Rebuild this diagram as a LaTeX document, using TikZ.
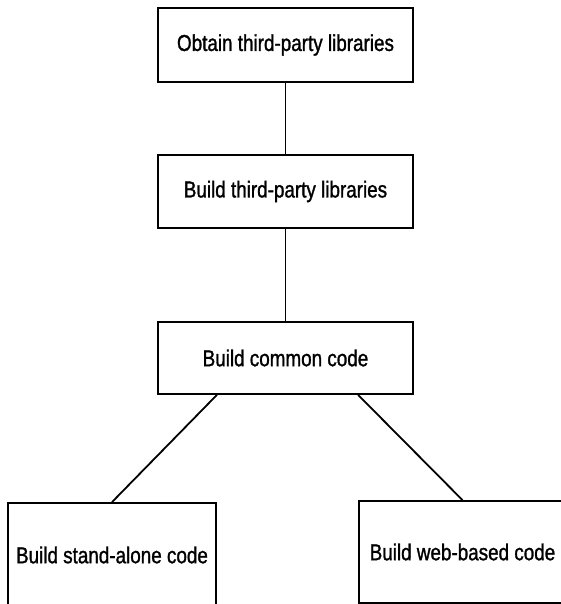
\documentclass[tikz,border=0pt]{standalone}
\usepackage{fontspec}
\setmainfont{Liberation Sans}[FakeStretch=0.82, FakeBold=1.2]
\begin{document}
\begin{tikzpicture}[x=1pt,y=-1pt,
  stepbox/.style={draw=black, line width=1.8pt, rectangle, inner sep=0pt,
    minimum width=255pt, font=\fontsize{23}{27}\selectfont, text=black},
  link/.style={draw=black, line width=1.8pt}]
\clip (0,0) rectangle (561,604);
\fill[white] (0,0) rectangle (561,604);
\node[stepbox, minimum height=74pt] (b1) at (285.5,45) {Obtain third-party libraries};
\node[stepbox, minimum height=73pt] (b2) at (285.5,191.5) {Build third-party libraries};
\node[stepbox, minimum height=72pt] (b3) at (285.5,358) {Build common code};
\node[stepbox, minimum width=208pt, minimum height=104pt] (b4) at (112,555) {Build stand-alone code};
\node[stepbox, minimum width=207pt, minimum height=102pt] (b5) at (462.5,552) {Build web-based code};
\draw[link] (b1.south) -- (b2.north);
\draw[link] (b2.south) -- (b3.north);
\draw[link] (b3.south -| b4.north east) -- (b4.north);
\draw[link] (b3.south -| b5.north west) -- (b5.north);
\end{tikzpicture}
\end{document}
